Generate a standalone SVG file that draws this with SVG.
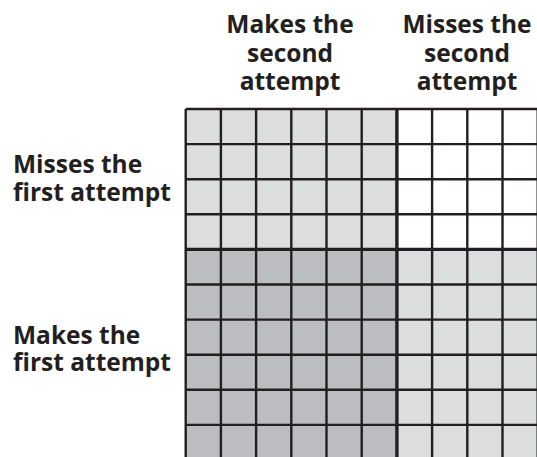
<svg xmlns="http://www.w3.org/2000/svg" width="537" height="457" viewBox="0 0 537 457">
<style>
.lbl{font-family:"Open Sans","Liberation Sans",sans-serif;font-weight:bold;font-size:24.5px;fill:#231f20}
.c{text-anchor:middle}
.ln{stroke:#231f20;stroke-width:2.4;fill:none}
.thick{stroke:#231f20;stroke-width:3.4;fill:none}
</style>
<g id="header-makes-second">
<text class="lbl c" x="290" y="33">Makes the</text>
<text class="lbl c" x="290" y="62">second</text>
<text class="lbl c" x="290" y="90">attempt</text>
</g>
<g id="header-misses-second">
<text class="lbl c" x="467" y="33">Misses the</text>
<text class="lbl c" x="467" y="62">second</text>
<text class="lbl c" x="467" y="90">attempt</text>
</g>
<g id="row-misses-first">
<text class="lbl" x="13" y="173">Misses the</text>
<text class="lbl" x="13" y="201">first attempt</text>
</g>
<g id="row-makes-first">
<text class="lbl" x="13" y="344">Makes the</text>
<text class="lbl" x="13" y="371">first attempt</text>
</g>
<g id="cells">
<rect id="miss-make" x="185.7" y="109" width="211.2" height="140.4" fill="#dcdddf"/>
<rect id="miss-miss" x="396.9" y="109" width="140.8" height="140.4" fill="#ffffff"/>
<rect id="make-make" x="185.7" y="249.4" width="211.2" height="210.6" fill="#bcbdc0"/>
<rect id="make-miss" x="396.9" y="249.4" width="140.8" height="210.6" fill="#dcdddf"/>
</g>
<g id="grid-lines">
<path class="ln" d="M185.7,109V460M220.9,109V460M256.1,109V460M291.3,109V460M326.5,109V460M361.7,109V460M432.1,109V460M467.3,109V460M502.5,109V460M537.7,109V460"/>
<path class="ln" d="M185.7,109H540M185.7,144.1H540M185.7,179.2H540M185.7,214.3H540M185.7,284.5H540M185.7,319.6H540M185.7,354.7H540M185.7,389.8H540M185.7,424.9H540"/>
<path class="thick" d="M396.9,109V460M185.7,249.4H540"/>
</g>
</svg>
